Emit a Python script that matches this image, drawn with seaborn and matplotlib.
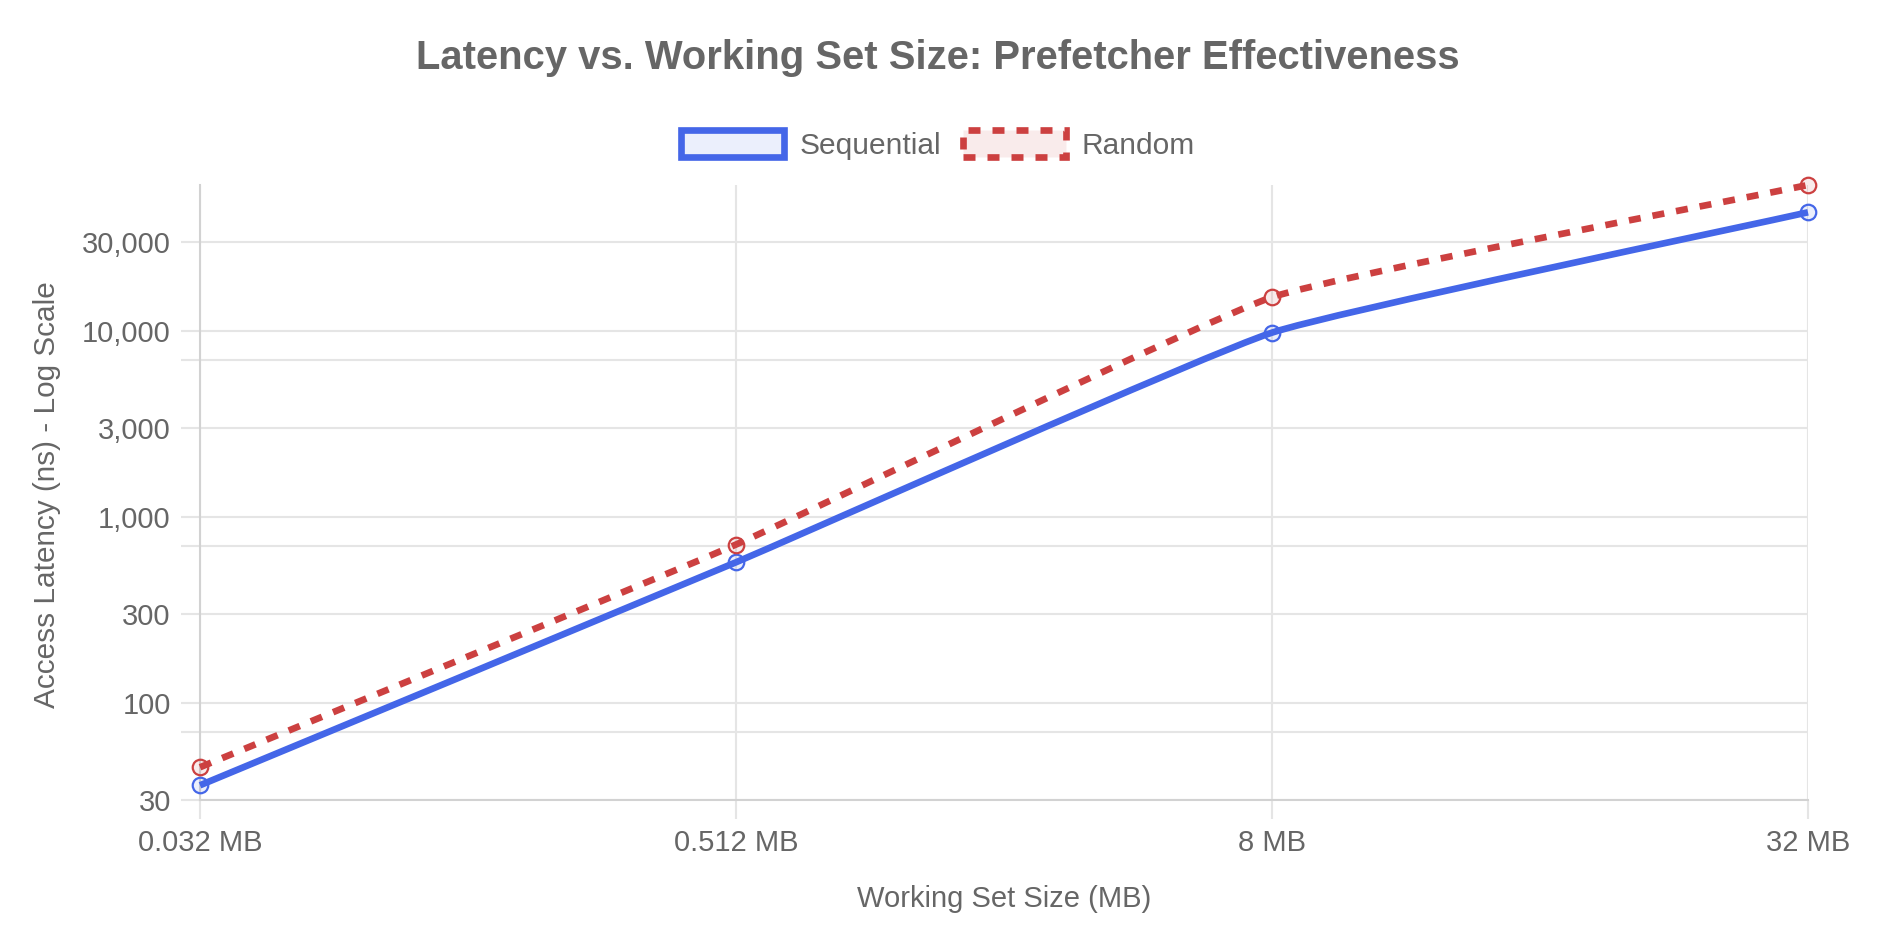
import matplotlib
matplotlib.use("Agg")
import matplotlib.pyplot as plt
import seaborn as sns
import numpy as np
import pandas as pd
from matplotlib.path import Path
from matplotlib.patches import PathPatch, Patch
from matplotlib.ticker import FixedLocator, FixedFormatter, NullLocator

# data
sizes = ["0.032 MB", "0.512 MB", "8 MB", "32 MB"]
sequential = [36, 570, 9800, 43500]
random_access = [45, 710, 15200, 61000]
y_ticks = [30, 70, 100, 300, 700, 1000, 3000, 7000, 10000, 30000]
y_labels = ["30", "", "100", "300", "", "1,000", "3,000", "", "10,000", "30,000"]

W, H = 1886, 942
BLUE = "#4466E8"
RED = "#CC4040"
GRID = "#e5e5e5"
TXT = "#666666"

sns.set_theme(style="white")
plt.rcParams["font.family"] = ["Liberation Sans", "DejaVu Sans"]

df = pd.DataFrame({
    "x": list(range(len(sizes))) * 2,
    "latency": sequential + random_access,
    "series": ["Sequential"] * len(sizes) + ["Random"] * len(sizes),
})

fig = plt.figure(figsize=(W / 100, H / 100), dpi=100)
left, right, top, bottom = 200, 1808, 185, 800
ax = fig.add_axes([left / W, 1 - bottom / H, (right - left) / W, (bottom - top) / H])

ax.set_yscale("log")
ax.set_xlim(0, len(sizes) - 1)
ax.set_ylim(30, max(random_access))


def smooth_path(xs, ys, t=0.12):
    # chart.js style bezier (control points worked out in pixel space)
    pts = ax.transData.transform(np.column_stack([xs, ys]).astype(float))
    n = len(pts)
    cp_prev, cp_next = [], []
    for i in range(n):
        p0, p1, p2 = pts[max(i - 1, 0)], pts[i], pts[min(i + 1, n - 1)]
        d01 = np.hypot(*(p1 - p0))
        d12 = np.hypot(*(p2 - p1))
        s01 = d01 / (d01 + d12)
        s12 = d12 / (d01 + d12)
        cp_prev.append(p1 - t * s01 * (p2 - p0))
        cp_next.append(p1 + t * s12 * (p2 - p0))
    verts = [pts[0]]
    codes = [Path.MOVETO]
    for i in range(n - 1):
        verts += [cp_next[i], cp_prev[i + 1], pts[i + 1]]
        codes += [Path.CURVE4] * 3
    verts = ax.transData.inverted().transform(np.array(verts))
    return Path(verts, codes)


lw = 4.8
for name, color, ls in [("Sequential", BLUE, "-"), ("Random", RED, (0, (1.8, 1.8)))]:
    sub = df[df.series == name]
    patch = PathPatch(smooth_path(sub.x.values, sub.latency.values), fill=False,
                      edgecolor=color, linewidth=lw, linestyle=ls, zorder=3,
                      clip_on=False, capstyle="butt", joinstyle="round")
    ax.add_patch(patch)
    face = matplotlib.colors.to_rgba(color, 0.1)
    sns.scatterplot(data=sub, x="x", y="latency", ax=ax, s=125, color=face,
                    edgecolor=color, linewidth=1.6, zorder=4, clip_on=False,
                    legend=False)

# axes look
ax.xaxis.set_major_locator(FixedLocator(range(len(sizes))))
ax.xaxis.set_major_formatter(FixedFormatter(sizes))
ax.yaxis.set_major_locator(FixedLocator(y_ticks))
ax.yaxis.set_major_formatter(FixedFormatter(y_labels))
ax.yaxis.set_minor_locator(NullLocator())
ax.grid(True, color=GRID, linewidth=1.5)
ax.set_axisbelow(True)
ax.tick_params(axis="both", length=14, width=1.5, color=GRID, labelsize=21,
               labelcolor=TXT, pad=7, left=True, bottom=True)
for side in ["top", "right"]:
    ax.spines[side].set_visible(False)
for side in ["left", "bottom"]:
    ax.spines[side].set_color("#d2d2d2")
    ax.spines[side].set_linewidth(1.5)
ax.set_xlabel("")
ax.set_ylabel("")

fig.text(938 / W, 1 - 58 / H, "Latency vs. Working Set Size: Prefetcher Effectiveness",
         ha="center", va="center", fontsize=28.8, fontweight="bold", color=TXT)
fig.text(1004 / W, 1 - 899 / H, "Working Set Size (MB)", ha="center", va="center",
         fontsize=21, color=TXT)
fig.text(47 / W, 1 - 495 / H, "Access Latency (ns) - Log Scale", ha="center",
         va="center", rotation=90, fontsize=21.4, color=TXT)

handles = [
    Patch(facecolor=matplotlib.colors.to_rgba(BLUE, 0.1), edgecolor=BLUE,
          linewidth=lw, label="Sequential"),
    Patch(facecolor=matplotlib.colors.to_rgba(RED, 0.1), edgecolor=RED,
          linewidth=lw, linestyle=(0, (1.8, 1.8)), label="Random"),
]
leg = fig.legend(handles=handles, loc="center", bbox_to_anchor=(938 / W, 1 - 145 / H),
                 ncol=2, frameon=False, fontsize=21.5, handlelength=3.45,
                 handleheight=1.0, handletextpad=0.5, columnspacing=0.75)
for t in leg.get_texts():
    t.set_color(TXT)

fig.savefig("out.png", dpi=100)
